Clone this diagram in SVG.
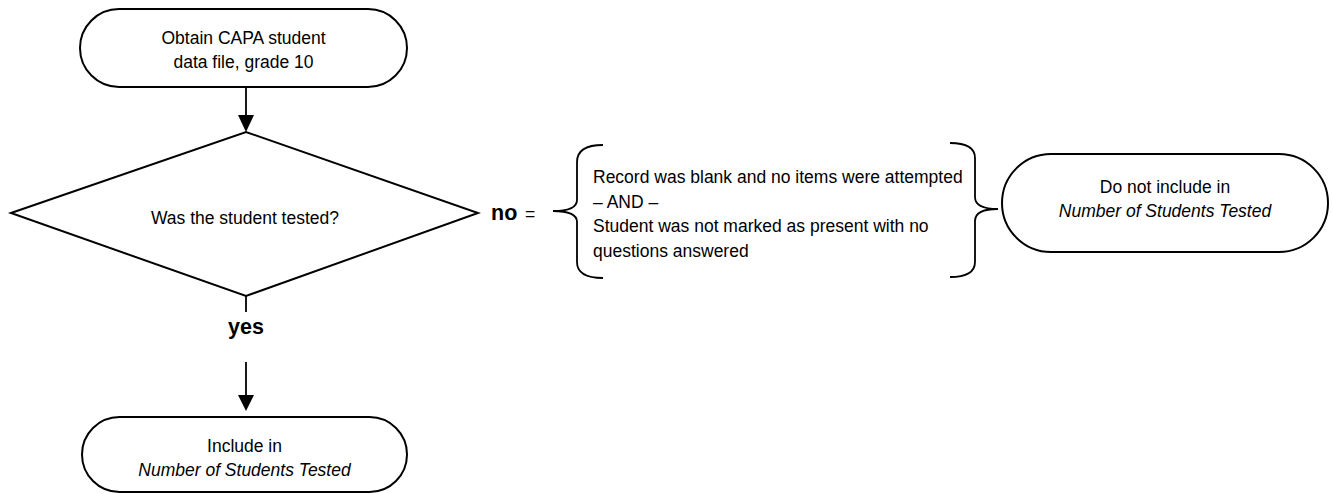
<svg xmlns="http://www.w3.org/2000/svg" width="1333" height="494" viewBox="0 0 1333 494">
<style>
.shape{fill:#fff;stroke:#000;stroke-width:2}
.line{fill:none;stroke:#000;stroke-width:1.8}
.head{fill:#000;stroke:none}
.t{font-family:"Liberation Sans",Arial,sans-serif;font-size:17.5px;fill:#000}
.c{text-anchor:middle}
.i{font-style:italic}
.b{font-weight:bold;font-size:21.5px}
</style>
<rect width="1333" height="494" fill="#fff"/>
<g id="connectors">
<line class="line" x1="246" y1="87" x2="246" y2="117"/>
<polygon class="head" points="238,115 254,115 246,132"/>
<line class="line" x1="246" y1="296" x2="246" y2="312"/>
<line class="line" x1="246" y1="362" x2="246" y2="397"/>
<polygon class="head" points="238,395 254,395 246,411"/>
<text class="t c b" x="246" y="334">yes</text>
<text class="t b" x="491" y="220">no</text>
<text class="t" x="525" y="220">=</text>
</g>
<g id="start">
<rect class="shape" x="80" y="9" width="327" height="78" rx="39" ry="39"/>
<text class="t c" x="243.5" y="44">Obtain CAPA student</text>
<text class="t c" x="243.5" y="68">data file, grade 10</text>
</g>
<g id="decision">
<polygon class="shape" points="11,213 246,132 478,213 246,296"/>
<text class="t c" x="245" y="224">Was the student tested?</text>
</g>
<g id="conditions">
<path class="line" d="M603,145 Q577,145 577,162 L577,200 Q577,211 553,211 Q577,211 577,222 L577,262 Q577,278 603,278"/>
<path class="line" d="M950,143 Q975,143 975,158 L975,197 Q975,209 998,209 Q975,209 975,221 L975,262 Q975,277 950,277"/>
<text class="t" x="593" y="183">Record was blank and no items were attempted</text>
<text class="t" x="593" y="207.5">– AND –</text>
<text class="t" x="593" y="232">Student was not marked as present with no</text>
<text class="t" x="593" y="256.5">questions answered</text>
</g>
<g id="exclude">
<rect class="shape" x="1002" y="154" width="326" height="98" rx="49" ry="49"/>
<text class="t c" x="1165" y="193">Do not include in</text>
<text class="t c i" x="1165" y="217">Number of Students Tested</text>
</g>
<g id="include">
<rect class="shape" x="82" y="417" width="325" height="75" rx="37.5" ry="37.5"/>
<text class="t c" x="244.5" y="452">Include in</text>
<text class="t c i" x="244.5" y="476">Number of Students Tested</text>
</g>
</svg>
